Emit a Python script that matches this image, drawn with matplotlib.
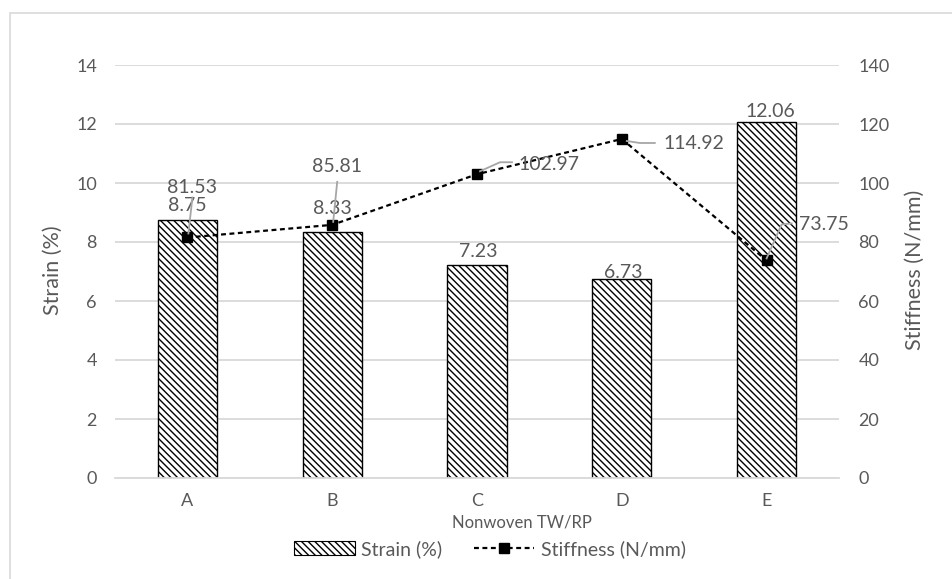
import matplotlib
matplotlib.use("Agg")
import matplotlib.pyplot as plt
import matplotlib.transforms as mtransforms
from matplotlib.patches import Rectangle, Patch
from matplotlib.lines import Line2D

plt.rcParams['font.family'] = ['Lato', 'DejaVu Sans']
plt.rcParams['hatch.linewidth'] = 1.0

# Data
categories = ["A", "B", "C", "D", "E"]
strain = [8.75, 8.33, 7.23, 6.73, 12.06]
stiffness = [81.53, 85.81, 102.97, 114.92, 73.75]
left_ticks = [0, 2, 4, 6, 8, 10, 12, 14]
right_ticks = [0, 20, 40, 60, 80, 100, 120, 140]

# Label placement (pixel offsets from the mark)
strain_label_off = [(0, 14), (0, 24), (1, 13), (1, 7), (4, 11)]
stiff_label_off = [(5, 50), (5, 58), (72, 10), (72, -5), (57, 36)]
stiff_leaders = [
    [(1, 4), (5, 40)],
    [(1, 3), (5, 43)],
    [(3, 3), (23, 12), (35, 12)],
    [(5, -2), (18, -4), (33, -4)],
    [(0, 2), (15, 36), (25, 37)],
]

TXT = "#595959"
GRID = "#d9d9d9"
HATCH = "\\\\\\\\\\"
W, H = 953, 579

fig = plt.figure(figsize=(W / 100, H / 100), dpi=100)
ax = fig.add_axes([115 / W, 1 - 478 / H, (839 - 115) / W, (478 - 65) / H])
ax2 = ax.twinx()

# outer chart frame
fig.patches.append(Rectangle((10 / W, -0.1), 1.2, (H - 13) / H + 0.1,
                             transform=fig.transFigure, fill=False,
                             edgecolor=GRID, linewidth=1.2))

x = list(range(len(categories)))
ax.bar(x, strain, width=0.41, color="white", edgecolor="black",
       hatch=HATCH, linewidth=1.0, zorder=2)
ax.set_xlim(-0.5, len(categories) - 0.5)
ax.set_ylim(0, 14)
ax.set_yticks(left_ticks)
ax.set_xticks(x)
ax.set_xticklabels(categories)
ax.set_axisbelow(True)
ax.yaxis.grid(True, color=GRID, linewidth=1.3)
for s in ax.spines.values():
    s.set_visible(False)
ax.spines['bottom'].set_visible(True)
ax.spines['bottom'].set_color(GRID)
ax.spines['bottom'].set_linewidth(1.3)
ax.tick_params(axis='y', length=0, pad=13, labelsize=13, labelcolor=TXT)
ax.tick_params(axis='x', length=0, pad=11, labelsize=13, labelcolor=TXT)

ax2.plot(x, stiffness, color="black", linestyle=(0, (2.2, 1.6)), linewidth=1.6,
         marker="s", markersize=7.8, zorder=3)
ax2.set_ylim(0, 140)
ax2.set_yticks(right_ticks)
for s in ax2.spines.values():
    s.set_visible(False)
ax2.tick_params(axis='y', length=0, pad=14, labelsize=13, labelcolor=TXT)

# Axis titles
fig.text(53 / W, 1 - 270 / H, "Strain (%)", rotation=90, ha="center",
         va="center", fontsize=15.5, color=TXT)
fig.text(915 / W, 1 - 270 / H, "Stiffness (N/mm)", rotation=90, ha="center",
         va="center", fontsize=15.5, color=TXT)
fig.text(522 / W, 1 - 522 / H, "Nonwoven TW/RP", ha="center", va="center",
         fontsize=12, color=TXT)

# Bar value labels
for xi, v, off in zip(x, strain, strain_label_off):
    ax.annotate(f"{v:.2f}", (xi, v), xytext=off, textcoords="offset pixels",
                ha="center", va="center", fontsize=14, color=TXT, zorder=5)

# Line value labels with leader lines
for xi, v, off, pts in zip(x, stiffness, stiff_label_off, stiff_leaders):
    tr = mtransforms.ScaledTranslation(xi, v, ax2.transData)
    ax2.add_line(Line2D([p[0] for p in pts], [p[1] for p in pts],
                        transform=tr, color="#a6a6a6", linewidth=1.3, zorder=4))
    ax2.annotate(f"{v:.2f}", (xi, v), xytext=off, textcoords="offset pixels",
                 ha="center", va="center", fontsize=14, color=TXT, zorder=5)

handles = [
    Patch(facecolor="white", edgecolor="black", hatch=HATCH, linewidth=0.8),
    Line2D([], [], color="black", linestyle=(0, (2.2, 1.6)), linewidth=1.6,
           marker="s", markersize=7.8),
]
fig.legend(handles, ["Strain (%)", "Stiffness (N/mm)"], loc="center",
           bbox_to_anchor=(490 / W, 1 - 549 / H), ncol=2, frameon=False,
           fontsize=14, labelcolor=TXT, handlelength=3.1, handletextpad=0.35,
           columnspacing=1.6)

fig.savefig("out.png", dpi=100)
